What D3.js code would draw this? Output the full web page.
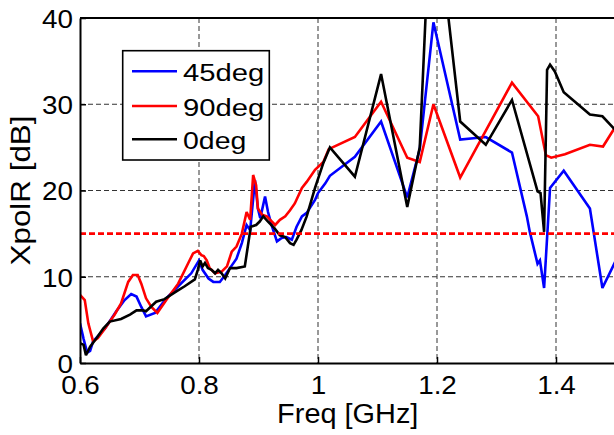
<!DOCTYPE html>
<html><head><meta charset="utf-8">
<script src="https://cdn.jsdelivr.net/npm/d3@7"></script>
<style>
body{margin:0;background:#fff}
svg{display:block}
text{font-family:"Liberation Sans",Arial,Helvetica,sans-serif;fill:#000}
</style>
</head><body>
<svg id="c" width="614" height="435"></svg>
<script>
// ---------- data ----------
const seriesNames = ["45deg", "90deg", "0deg"];
const seriesColors = ["#0000ff", "#ff0000", "#000000"];

const freq45 = [0.600,0.606,0.612,0.617,0.622,0.642,0.661,0.675,0.686,0.695,0.703,0.711,0.726,0.745,0.765,0.787,0.800,0.806,0.816,0.824,0.835,0.844,0.852,0.863,0.872,0.880,0.886,0.894,0.899,0.903,0.911,0.916,0.922,0.931,0.939,0.947,0.956,0.964,0.973,0.981,0.995,1.000,1.012,1.020,1.062,1.106,1.150,1.171,1.194,1.239,1.282,1.326,1.351,1.356,1.369,1.373,1.380,1.390,1.413,1.457,1.478,1.500];
const xpol45 = [4.6,2.8,1.2,1.4,2.5,4.0,6.0,7.3,8.0,7.7,6.5,5.4,5.8,7.5,8.9,10.4,11.9,10.8,9.8,9.4,9.4,10.2,11.0,12.1,13.9,16.0,15.4,21.2,17.9,16.8,19.3,17.5,16.0,14.1,14.5,14.6,14.3,15.8,17.0,17.4,18.9,19.7,20.8,21.7,23.9,28.0,19.2,24.8,39.5,25.9,26.2,24.4,17.0,15.2,11.5,11.9,8.7,20.3,22.3,17.9,8.7,11.8];

const freq90 = [0.600,0.608,0.614,0.622,0.630,0.642,0.658,0.669,0.681,0.689,0.697,0.703,0.711,0.720,0.730,0.745,0.765,0.782,0.790,0.798,0.804,0.808,0.813,0.818,0.827,0.838,0.847,0.855,0.863,0.872,0.880,0.886,0.891,0.896,0.899,0.906,0.914,0.928,0.936,0.945,0.953,0.961,0.973,0.981,0.995,1.009,1.018,1.062,1.106,1.150,1.171,1.194,1.239,1.326,1.370,1.383,1.392,1.415,1.457,1.479,1.500];
const xpol90 = [7.9,7.3,4.6,2.5,2.9,4.0,5.6,6.9,9.4,10.2,10.2,9.2,7.5,6.5,5.8,7.3,9.2,11.6,12.7,13.0,12.5,12.4,11.9,11.0,10.4,10.6,11.2,12.9,13.5,15.0,17.5,16.6,21.8,20.6,17.9,17.2,17.0,16.0,16.6,17.0,17.7,18.5,20.3,21.0,22.4,23.3,24.8,26.2,30.3,23.8,23.3,30.0,21.5,32.5,28.6,24.1,23.8,24.2,25.3,25.1,27.4];

const freq0 = [0.600,0.606,0.610,0.617,0.628,0.639,0.650,0.669,0.684,0.695,0.706,0.711,0.728,0.742,0.762,0.776,0.793,0.798,0.802,0.806,0.810,0.815,0.821,0.827,0.832,0.838,0.844,0.852,0.863,0.877,0.887,0.896,0.902,0.908,0.916,0.927,0.936,0.945,0.953,0.959,0.964,0.972,0.981,0.995,1.009,1.020,1.062,1.106,1.150,1.171,1.183,1.214,1.239,1.282,1.326,1.369,1.374,1.380,1.385,1.390,1.398,1.413,1.457,1.478,1.500];
const xpol0 = [2.3,2.1,0.9,1.9,2.9,4.0,4.8,5.1,5.6,6.1,6.1,6.0,7.1,7.4,8.3,8.9,9.7,10.8,11.9,11.2,11.6,11.0,10.8,10.4,10.8,10.4,9.8,11.0,11.0,11.2,15.8,16.0,16.4,17.0,16.4,15.6,14.8,14.6,13.9,13.7,14.3,15.4,17.0,20.3,23.2,25.0,21.6,33.5,18.1,25.0,43.6,43.2,28.0,25.3,30.5,19.9,19.7,15.2,34.0,34.6,33.8,31.4,28.8,28.6,27.0];

const thresholdValue = 15;
const xTicks = [0.6, 0.8, 1.0, 1.2, 1.4];
const yTicks = [0, 10, 20, 30, 40];
const xDomain = [0.6, 1.5];
const yDomain = [0, 40];
const xLabel = "Freq [GHz]";
const yLabel = "XpolR [dB]";

// ---------- layout ----------
const L = 80, R = 615.5, T = 18, B = 363;
const svg = d3.select("#c");
const x = d3.scaleLinear().domain(xDomain).range([L, R]);
const y = d3.scaleLinear().domain(yDomain).range([B, T]);

svg.append("defs").append("clipPath").attr("id", "clip")
  .append("rect").attr("x", L).attr("y", T).attr("width", R - L).attr("height", B - T);

// grid
const grid = svg.append("g");
grid.selectAll("line.gx").data(xTicks.filter(d => d > xDomain[0])).join("line")
  .attr("x1", d => x(d)).attr("x2", d => x(d)).attr("y1", T).attr("y2", B)
  .attr("stroke", "#333").attr("stroke-width", 1).attr("stroke-dasharray", "5,3");
grid.selectAll("line.gy").data(yTicks.filter(d => d > yDomain[0] && d < yDomain[1])).join("line")
  .attr("x1", L).attr("x2", R).attr("y1", d => y(d)).attr("y2", d => y(d))
  .attr("stroke", "#333").attr("stroke-width", 1).attr("stroke-dasharray", "5,3");

// series
const series = [
  {name: seriesNames[0], color: seriesColors[0], f: freq45, v: xpol45},
  {name: seriesNames[1], color: seriesColors[1], f: freq90, v: xpol90},
  {name: seriesNames[2], color: seriesColors[2], f: freq0, v: xpol0}
];
const line = d3.line().x(d => x(d[0])).y(d => y(d[1]));
const plot = svg.append("g").attr("clip-path", "url(#clip)");
series.forEach(s => {
  plot.append("path").datum(s.f.map((f, i) => [f, s.v[i]]))
    .attr("d", line).attr("fill", "none").attr("stroke", s.color)
    .attr("stroke-width", 2.6).attr("stroke-linejoin", "miter").attr("stroke-miterlimit", 3);
});
// threshold
plot.append("line").attr("x1", L).attr("x2", R)
  .attr("y1", y(thresholdValue)).attr("y2", y(thresholdValue))
  .attr("stroke", "#ff0000").attr("stroke-width", 2.6).attr("stroke-dasharray", "6,3");

// axes frame
svg.append("line").attr("x1", L).attr("x2", R).attr("y1", T).attr("y2", T).attr("stroke", "#000").attr("stroke-width", 2);

const xAxis = svg.append("g").attr("transform", `translate(0,${B})`)
  .call(d3.axisBottom(x).tickValues(xTicks).tickFormat(d3.format("")).tickSizeInner(-6).tickSizeOuter(0).tickPadding(12));
const yAxis = svg.append("g").attr("transform", `translate(${L},0)`)
  .call(d3.axisLeft(y).tickValues(yTicks).tickFormat(d3.format("")).tickSizeInner(-6).tickSizeOuter(0).tickPadding(7));
[xAxis, yAxis].forEach(a => {
  a.select(".domain").attr("stroke", "#000").attr("stroke-width", 2);
  a.selectAll(".tick line").attr("stroke", "#000").attr("stroke-width", 1.5);
  a.selectAll(".tick text").attr("font-size", 26).attr("fill", "#000")
    .attr("font-family", '"Liberation Sans",Arial,sans-serif').attr("class", "stretch");
});
xAxis.selectAll(".tick text").attr("dy", null).attr("y", 30.5);
yAxis.selectAll(".tick text").attr("dy", null).attr("y", 9.3).attr("x", -7);

// axis labels
svg.append("text").attr("x", (L + R) / 2).attr("y", 423.3).attr("text-anchor", "middle")
  .attr("font-size", 27).attr("class", "stretch").text(xLabel);
svg.append("text").attr("transform", `translate(30,${(T + B) / 2}) rotate(-90)`)
  .attr("text-anchor", "middle").attr("font-size", 28)
  .attr("textLength", 150).attr("lengthAdjust", "spacingAndGlyphs").text(yLabel);

// legend
const lg = svg.append("g");
lg.append("rect").attr("x", 122.7).attr("y", 50.7).attr("width", 146.6).attr("height", 109.3)
  .attr("fill", "#fff").attr("stroke", "#000").attr("stroke-width", 1.6);
const legendY = [71.3, 106, 139.3];
const legendW = [81.3, 81.3, 63.3];
series.forEach((s, i) => {
  lg.append("line").attr("x1", 132).attr("x2", 177).attr("y1", legendY[i]).attr("y2", legendY[i])
    .attr("stroke", s.color).attr("stroke-width", 2.6);
  lg.append("text").attr("x", 183).attr("y", legendY[i] + 9.6).attr("font-size", 23)
    .attr("textLength", legendW[i]).attr("lengthAdjust", "spacingAndGlyphs").text(s.name);
});

// slight horizontal stretch of texts to match the reference's wide glyphs
svg.selectAll("text.stretch").each(function () {
  const w = this.getComputedTextLength();
  d3.select(this).attr("textLength", w * 1.07).attr("lengthAdjust", "spacingAndGlyphs");
});
</script>
</body></html>
